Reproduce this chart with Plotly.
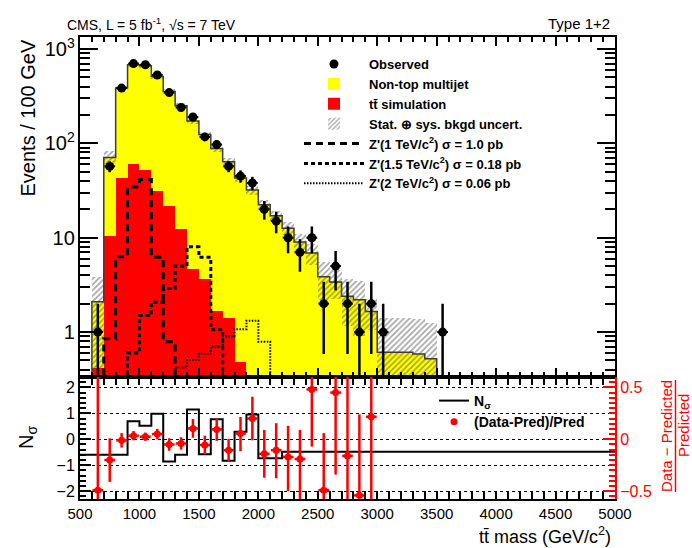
import numpy as np
import plotly.graph_objects as go

# ---------------- data ----------------
bin_low = [600, 700, 800, 900, 1000, 1100, 1200, 1300, 1400, 1500, 1600, 1700, 1800, 1900,
           2000, 2100, 2200, 2300, 2400, 2500, 2600, 2700, 2800, 2900, 3000, 3100, 3200, 3300, 3400]
bin_width = 100

# total predicted background (non-top multijet stacked on ttbar)
total_bkg = [2.1, 71, 385, 680, 665, 510, 355, 250, 173, 124, 88, 64, 43, 32,
             22.3, 17.1, 12.6, 9.0, 6.9, 3.85, 3.4, 2.4, 2.2, 1.65, 0.61, 0.61, 0.61, 0.585, 0.52]
ttbar_sim = [0.42, 10.4, 43.4, 60, 51.8, 31, 21.5, 12.5, 4.7, 3.64, 1.67, 1.4, 0.485, 0.25,
             0.15, 0.1, 0.07, 0.05, 0.03, 0.02, 0.02, 0.01, 0.01, 0.01, 0.01, 0.01, 0.01, 0.01, 0.01]
bkg_unc = [1.7, 11, 20, 30, 30, 25, 20, 15, 11, 8, 7, 6, 4.5, 3.5,
           2.8, 2.1, 1.9, 1.9, 1.7, 1.65, 1.15, 1.25, 1.3, 0.6, 0.79, 0.79, 0.79, 0.8, 0.72]

zprime_1000 = [0.08, 0.85, 6.3, 34.5, 41.3, 6.2, 0.79, 0.09, 0.02, 0.01, 0.01, 0.01, 0.01, 0.01,
               0.01, 0.01, 0.01, 0.01, 0.01, 0.01, 0.01, 0.01, 0.01, 0.01, 0.01, 0.01, 0.01, 0.01, 0.01]
zprime_1500 = [0.01, 0.01, 0.08, 0.60, 1.5, 2.07, 2.9, 5.0, 8.0, 6.2, 1.06, 0.1, 0.02, 0.01,
               0.01, 0.01, 0.01, 0.01, 0.01, 0.01, 0.01, 0.01, 0.01, 0.01, 0.01, 0.01, 0.01, 0.01, 0.01]
zprime_2000 = [0.01, 0.01, 0.01, 0.01, 0.01, 0.01, 0.1, 0.42, 0.505, 0.59, 0.70, 0.9, 1.07, 1.32,
               0.79, 0.1, 0.02, 0.01, 0.01, 0.01, 0.01, 0.01, 0.01, 0.01, 0.01, 0.01, 0.01, 0.01, 0.01]

obs_mass = [650, 750, 850, 950, 1050, 1150, 1250, 1350, 1450, 1550, 1650, 1750, 1850, 1950,
            2050, 2150, 2250, 2350, 2450, 2550, 2650, 2750, 2850, 2950, 3050, 3550]
obs_events = [1, 57, 385, 700, 680, 530, 345, 240, 190, 117, 97, 57, 45, 38,
              20, 15, 10, 7, 10, 2, 5, 2, 1, 2, 1, 1]

ratio_mass = [650, 750, 850, 950, 1050, 1150, 1250, 1350, 1450, 1550, 1650, 1750, 1850, 1950,
              2050, 2150, 2250, 2350, 2450, 2550, 2650, 2750, 2850, 2950]
ratio_value = [-0.49, -0.20, -0.01, 0.035, 0.025, 0.05, -0.05, -0.04, 0.105, -0.055, 0.095, -0.105,
               0.055, 0.20, -0.14, -0.105, -0.17, -0.19, 0.48, -0.49, 0.45, -0.16, -0.54, 0.217]
ratio_err_up = [1.2, 0.21, 0.07, 0.045, 0.04, 0.05, 0.06, 0.06, 0.09, 0.09, 0.11, 0.11,
                0.16, 0.21, 0.23, 0.26, 0.30, 0.28, 0.5, 0.55, 0.6, 0.9, 0.78, 0.9]
ratio_err_dn = [1.2, 0.21, 0.07, 0.045, 0.04, 0.05, 0.06, 0.06, 0.09, 0.09, 0.11, 0.11,
                0.17, 0.21, 0.23, 0.27, 0.33, 0.45, 0.55, 0.5, 0.79, 0.9, 0.5, 0.9]

nsig_edges = [500, 900, 1000, 1100, 1200, 1300, 1400, 1500, 1600, 1700, 1800, 1900, 2000, 2200, 5000]
nsig_value = [-0.60, 0.70, 0.52, 0.98, -0.86, -0.60, 1.15, -0.58, 0.77, -0.83, 0.29, 0.96, -0.73, -0.48]

# ---------------- helpers ----------------
W, H = 692, 548
L, R, T, B = 80, 77, 37, 49
PW, PH = W - L - R, H - T - B


def px2x(px):
    return (px - L) / PW


def py2y(py):
    return (H - B - py) / PH


def step_xy(lows, vals, width, floor=None):
    x = list(lows) + [lows[-1] + width]
    y = list(vals) + [vals[-1]]
    if floor is not None:
        x = [lows[0]] + x + [x[-1]]
        y = [floor] + y + [floor]
    return x, y


centers = np.array(bin_low) + bin_width / 2
tot = np.array(total_bkg)
unc = np.array(bkg_unc)
band_base = np.maximum(tot - unc, 1e-3)
band_len = tot + unc - band_base

FONT = "Liberation Sans, Arial, Helvetica, sans-serif"
split = py2y(377)

fig = go.Figure()

# ---------------- main panel ----------------
fig.add_trace(go.Bar(x=centers, y=total_bkg, width=bin_width, name="Non-top multijet",
                     marker=dict(color="#ffff00", line=dict(width=0)), legendrank=2,
                     xaxis="x", yaxis="y"))
fig.add_trace(go.Bar(x=centers, y=ttbar_sim, width=bin_width, name="t\u0074\u0304 simulation",
                     marker=dict(color="#ff0000", line=dict(width=0)), legendrank=3,
                     xaxis="x", yaxis="y"))
fig.add_trace(go.Bar(x=centers, y=band_len, base=band_base, width=bin_width,
                     name="Stat. \u2295 sys. bkgd uncert.", legendrank=4,
                     marker=dict(color="rgba(0,0,0,0)", line=dict(width=0),
                                 pattern=dict(shape="/", fgcolor="#4a4a4a", bgcolor="rgba(0,0,0,0)",
                                              size=4, solidity=0.4)),
                     xaxis="x", yaxis="y"))
sx, sy = step_xy(bin_low, total_bkg, bin_width, floor=1e-3)
fig.add_trace(go.Scatter(x=sx, y=sy, mode="lines", line=dict(color="#3c3c3c", width=1.5, shape="hv"),
                         showlegend=False, hoverinfo="skip", xaxis="x", yaxis="y"))

for vals, nm, dash, wd, rk in [
    (zprime_1000, "Z'(1 TeV/c<sup>2</sup>) \u03c3 = 1.0 pb", "7px,5px", 3, 5),
    (zprime_1500, "Z'(1.5 TeV/c<sup>2</sup>) \u03c3 = 0.18 pb", "4px,3px", 3, 6),
    (zprime_2000, "Z'(2 TeV/c<sup>2</sup>) \u03c3 = 0.06 pb", "1.5px,1.5px", 2, 7),
]:
    zx, zy = step_xy(bin_low, vals, bin_width)
    fig.add_trace(go.Scatter(x=zx, y=zy, mode="lines", name=nm, legendrank=rk,
                             line=dict(color="black", width=wd, dash=dash, shape="hv"),
                             xaxis="x", yaxis="y"))

fig.add_trace(go.Scatter(x=obs_mass, y=obs_events, mode="markers", name="Observed", legendrank=1,
                         marker=dict(color="black", size=9),
                         error_y=dict(type="sqrt", color="black", thickness=2.5, width=0),
                         error_x=dict(type="constant", value=45, color="black", thickness=2, width=0),
                         xaxis="x", yaxis="y"))

# ---------------- ratio panel ----------------
nx, ny = nsig_edges, nsig_value + [nsig_value[-1]]
fig.add_trace(go.Scatter(x=nx, y=ny, mode="lines", name="N<sub>\u03c3</sub>", legend="legend2",
                         line=dict(color="black", width=2, shape="hv"), xaxis="x2", yaxis="y2"))
fig.add_trace(go.Scatter(x=ratio_mass, y=ratio_value, mode="markers", name="(Data-Pred)/Pred",
                         legend="legend2",
                         marker=dict(color="#ff0000", size=7),
                         error_y=dict(type="data", array=ratio_err_up, arrayminus=ratio_err_dn,
                                      color="#ff0000", thickness=2.5, width=0),
                         error_x=dict(type="constant", value=45, color="#ff0000", thickness=2.5, width=0),
                         xaxis="x2", yaxis="y3"))

axis_common = dict(showline=True, linecolor="black", linewidth=2, ticks="inside",
                   tickcolor="black", showgrid=False, zeroline=False)

fig.update_layout(
    width=W, height=H,
    margin=dict(l=L, r=R, t=T, b=B),
    paper_bgcolor="white", plot_bgcolor="white",
    barmode="overlay", bargap=0,
    font=dict(family=FONT, size=15, color="black"),
    xaxis=dict(domain=[0, 1], anchor="y", range=[500, 5000], tick0=500, dtick=500,
               showticklabels=False, ticklen=9, tickwidth=1.5, mirror="allticks",
               minor=dict(dtick=100, ticklen=5, ticks="inside", tickcolor="black"),
               matches="x2", **axis_common),
    yaxis=dict(domain=[split, 1], anchor="x", type="log",
               range=[np.log10(0.334), np.log10(1340)], tick0=0, dtick=1,
               exponentformat="power", ticklen=18, tickwidth=1.5, mirror="allticks",
               tickfont=dict(size=16),
               minor=dict(dtick="D1", ticklen=10, ticks="inside", tickcolor="black"),
               **axis_common),
    xaxis2=dict(domain=[0, 1], anchor="y2", range=[500, 5000], tick0=500, dtick=500,
                ticklen=8, tickwidth=1.5, mirror="allticks",
                minor=dict(dtick=100, ticklen=4, ticks="inside", tickcolor="black"),
                tickfont=dict(size=15), **axis_common),
    yaxis2=dict(domain=[0, split], anchor="x2", range=[-2.3, 2.4], tick0=0, dtick=1,
                ticklen=11, tickwidth=1.5, tickfont=dict(size=16),
                minor=dict(dtick=0.2, ticklen=6, ticks="inside", tickcolor="black"),
                showline=True, linecolor="black", linewidth=2, ticks="inside", tickcolor="black",
                zeroline=False, showgrid=True, gridcolor="black", gridwidth=1, griddash="dot"),
    yaxis3=dict(overlaying="y2", anchor="x2", side="right", range=[-0.575, 0.6], tick0=0, dtick=0.5,
                showline=True, linecolor="#ff0000", linewidth=2, ticks="inside", tickcolor="#ff0000",
                ticklen=12, tickwidth=1.5, tickfont=dict(color="#ff0000", size=16),
                minor=dict(dtick=0.05, ticklen=6, ticks="inside", tickcolor="#ff0000"),
                showgrid=False, zeroline=False),
    legend=dict(x=px2x(299), y=py2y(49), xanchor="left", yanchor="top",
                bgcolor="rgba(0,0,0,0)", traceorder="normal", itemwidth=60,
                font=dict(size=13, weight="bold", family=FONT)),
    legend2=dict(x=px2x(434), y=py2y(385), xanchor="left", yanchor="top",
                 bgcolor="rgba(0,0,0,0)", traceorder="normal", itemwidth=30,
                 font=dict(size=14, weight="bold", family=FONT)),
)

ann = [
    dict(text="CMS, L = 5 fb<sup>-1</sup>, \u221As = 7 TeV", x=px2x(65), y=py2y(24),
         xanchor="left", yanchor="middle", font=dict(size=14)),
    dict(text="Type 1+2", x=px2x(612), y=py2y(24), xanchor="right", yanchor="middle",
         font=dict(size=15)),
    dict(text="Events / 100 GeV", x=px2x(27), y=py2y(38), xanchor="center", yanchor="top",
         textangle=-90, font=dict(size=20)),
    dict(text="N<sub>\u03c3</sub>", x=px2x(27), y=py2y(438), xanchor="center", yanchor="middle",
         textangle=-90, font=dict(size=20)),
    dict(text="t\u0074\u0304 mass (GeV/c<sup>2</sup>)", x=px2x(613), y=py2y(535), xanchor="right",
         yanchor="middle", font=dict(size=18)),
    dict(text="Data \u2212 Predicted", x=px2x(666), y=py2y(436), xanchor="center", yanchor="middle",
         textangle=-90, font=dict(size=15, color="#ff0000")),
    dict(text="Predicted", x=px2x(683), y=py2y(426), xanchor="center", yanchor="middle",
         textangle=-90, font=dict(size=15, color="#ff0000")),
]
for a in ann:
    a.update(xref="paper", yref="paper", showarrow=False)
fig.update_layout(annotations=ann)
fig.add_shape(type="line", xref="paper", yref="paper", x0=px2x(675.5), x1=px2x(675.5),
              y0=py2y(380), y1=py2y(492), line=dict(color="#ff0000", width=1.5))

fig.write_html("out.html", config={"displayModeBar": False},
               post_script="document.body.style.margin='0';document.body.style.padding='0';")
